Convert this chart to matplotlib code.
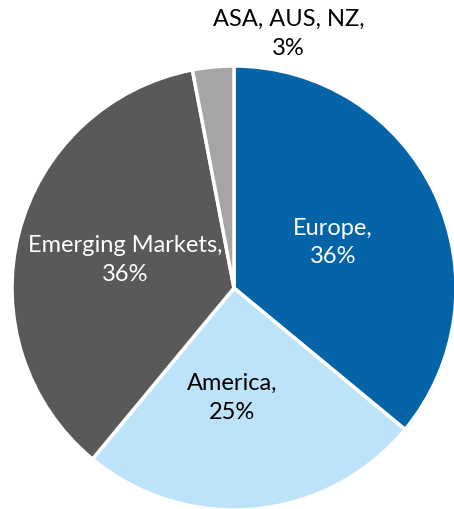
import matplotlib
matplotlib.use("Agg")
from matplotlib import pyplot as plt

regions = ["Europe", "America", "Emerging Markets", "ASA, AUS, NZ"]
shares = [36, 25, 36, 3]
colors = ["#0563A8", "#BDE3FA", "#595959", "#A5A5A5"]
text_colors = ["white", "black", "white", "black"]

plt.rcParams["font.family"] = ["Lato", "DejaVu Sans"]

fig = plt.figure(figsize=(4.54, 5.10), dpi=100)
# pie centre at (234, 289) px from top-left, radius ~222 px
r_px = 222
ax = fig.add_axes([(234 - r_px) / 454, (221 - r_px) / 510, 2 * r_px / 454, 2 * r_px / 510])

labels = [f"{name},\n{v}%" for name, v in zip(regions, shares)]
wedges, texts = ax.pie(shares, labels=labels, colors=colors, startangle=90,
                       counterclock=False, labeldistance=0.5,
                       wedgeprops={"edgecolor": "white", "linewidth": 2.5},
                       textprops={"fontsize": 17, "ha": "center", "va": "center",
                                  "linespacing": 1.45})
for t, c in zip(texts, text_colors):
    t.set_color(c)
    t.set_ha("center")
    t.set_va("center")
    t.set_clip_on(False)

# small slice label sits above the pie
texts[3].set_position((0.245, 1.15))
texts[2].set_position((-0.49, 0.13))
texts[0].set_position((0.445, 0.21))
texts[1].set_position((-0.01, -0.49))

ax.set_xlim(-1, 1)
ax.set_ylim(-1, 1)
ax.set_aspect("equal")
ax.axis("off")

fig.savefig("out.png", dpi=100)
